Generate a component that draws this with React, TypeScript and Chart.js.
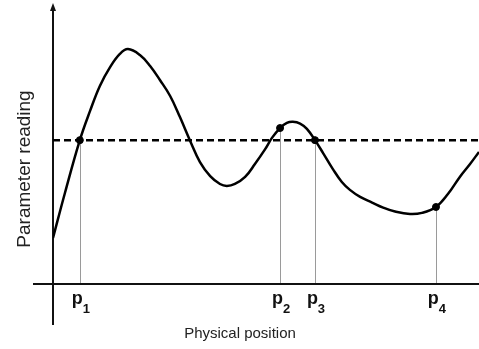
import React, { useEffect, useRef } from "react";
import { Chart, registerables } from "chart.js";

Chart.register(...registerables);

// Sensor trace along the physical axis (arbitrary units, 0–100 on both axes)
const positions = [
  0, 2.8, 6.3, 8.7, 11.0, 13.4, 15.7, 17.6, 20.4, 22.8, 25.1, 27.5, 29.8, 32.2, 34.5, 36.9, 39.2, 40.8,
  42.7, 45.1, 47.4, 49.8, 51.4, 53.3, 54.9, 56.3, 58.0, 59.6, 61.5, 63.4, 65.7, 67.8, 69.7, 72.1, 74.9,
  77.5, 80.3, 83.8, 86.6, 89.9, 92.7, 95.5, 97.9, 100,
];
const readings = [
  16.4, 32.4, 51.2, 61.6, 70.5, 77.2, 81.9, 83.6, 81.5, 77.6, 72.6, 66.9, 59.4, 50.9, 43.4, 38.4, 35.6, 34.9,
  35.6, 38.1, 42.7, 48.0, 52.0, 55.5, 57.3, 57.7, 57.1, 55.2, 51.2, 46.6, 40.9, 36.3, 33.5, 31.0, 29.0,
  27.2, 25.8, 24.9, 25.3, 27.4, 32.0, 38.1, 42.7, 47.0,
];

// Reference level drawn as the dashed line
const threshold = 51.2;

// Marked positions p1..p4
const markerSubscripts = ["1", "2", "3", "4"];
const markerPositions = [6.3, 53.3, 61.5, 89.9];
const markerReadings = [51.2, 55.5, 51.2, 27.4];

const xTitle = "Physical position";
const yTitle = "Parameter reading";

const FONT = '"Liberation Sans", Arial, Helvetica, sans-serif';

const diagramPlugin = {
  id: "diagramAxes",
  beforeDatasetsDraw(chart: any) {
    const { ctx, scales } = chart;
    const xs = scales.x;
    const ys = scales.y;
    const x0 = xs.getPixelForValue(0);
    const y0 = ys.getPixelForValue(0);
    const yTop = ys.getPixelForValue(100);

    ctx.save();
    // drop lines from each marker to the horizontal axis
    ctx.strokeStyle = "#9a9a9a";
    ctx.lineWidth = 1;
    markerPositions.forEach((p, i) => {
      const px = Math.round(xs.getPixelForValue(p)) + 0.5;
      ctx.beginPath();
      ctx.moveTo(px, ys.getPixelForValue(markerReadings[i]));
      ctx.lineTo(px, y0);
      ctx.stroke();
    });

    // axes
    ctx.strokeStyle = "#111";
    ctx.lineWidth = 2;
    ctx.beginPath();
    ctx.moveTo(x0 - 20, y0);
    ctx.lineTo(chart.width, y0);
    ctx.moveTo(x0, y0 + 41);
    ctx.lineTo(x0, yTop + 5);
    ctx.stroke();

    // arrow head on the vertical axis
    ctx.fillStyle = "#111";
    ctx.beginPath();
    ctx.moveTo(x0, yTop);
    ctx.lineTo(x0 - 3, yTop + 8);
    ctx.lineTo(x0 + 3, yTop + 8);
    ctx.closePath();
    ctx.fill();
    ctx.restore();
  },
  afterDraw(chart: any) {
    const { ctx, scales } = chart;
    const xs = scales.x;
    const ys = scales.y;
    const y0 = ys.getPixelForValue(0);

    ctx.save();
    ctx.fillStyle = "#111";
    ctx.textBaseline = "alphabetic";
    ctx.textAlign = "left";

    // p with subscript under each marker
    markerPositions.forEach((p, i) => {
      const px = xs.getPixelForValue(p);
      ctx.font = `bold 18px ${FONT}`;
      const wp = ctx.measureText("p").width;
      ctx.font = `bold 13px ${FONT}`;
      const ws = ctx.measureText(markerSubscripts[i]).width;
      const left = px - (wp + ws) / 2 + 1;
      ctx.font = `bold 18px ${FONT}`;
      ctx.fillText("p", left, y0 + 20);
      ctx.font = `bold 13px ${FONT}`;
      ctx.fillText(markerSubscripts[i], left + wp, y0 + 29);
    });

    // axis titles
    ctx.font = `15px ${FONT}`;
    ctx.textAlign = "center";
    ctx.fillStyle = "#222";
    ctx.fillText(xTitle, 240, y0 + 54);

    ctx.save();
    ctx.translate(30, 169);
    ctx.rotate(-Math.PI / 2);
    ctx.font = `19px ${FONT}`;
    ctx.fillText(yTitle, 0, 0);
    ctx.restore();

    ctx.restore();
  },
};

export default function App() {
  const canvasRef = useRef<HTMLCanvasElement | null>(null);

  useEffect(() => {
    const canvas = canvasRef.current;
    if (!canvas) return;
    const chart = new Chart(canvas, {
      type: "line",
      data: {
        datasets: [
          {
            label: "markers",
            data: markerPositions.map((x, i) => ({ x, y: markerReadings[i] })),
            showLine: false,
            pointRadius: 3.5,
            pointBackgroundColor: "#000",
            pointBorderColor: "#000",
            pointBorderWidth: 1,
            order: 0,
          },
          {
            label: "reading",
            data: positions.map((x, i) => ({ x, y: readings[i] })),
            borderColor: "#000",
            borderWidth: 2.5,
            pointRadius: 0,
            tension: 0.4,
            fill: false,
            order: 1,
          },
          {
            label: "threshold",
            data: [
              { x: 0, y: threshold },
              { x: 100, y: threshold },
            ],
            borderColor: "#000",
            borderWidth: 2.5,
            borderDash: [7, 4],
            pointRadius: 0,
            fill: false,
            order: 2,
          },
        ],
      },
      options: {
        animation: false,
        responsive: false,
        devicePixelRatio: 1,
        layout: { autoPadding: false, padding: { left: 53, right: 0, top: 3, bottom: 65 } },
        scales: {
          x: { type: "linear", min: 0, max: 100, display: false },
          y: { type: "linear", min: 0, max: 100, display: false },
        },
        plugins: {
          legend: { display: false },
          tooltip: { enabled: false },
        },
        events: [],
      },
      plugins: [diagramPlugin],
    });
    return () => chart.destroy();
  }, []);

  return (
    <div style={{ position: "fixed", left: 0, top: 0, width: 479, height: 349, background: "#fff" }}>
      <canvas ref={canvasRef} width={479} height={349} />
    </div>
  );
}
